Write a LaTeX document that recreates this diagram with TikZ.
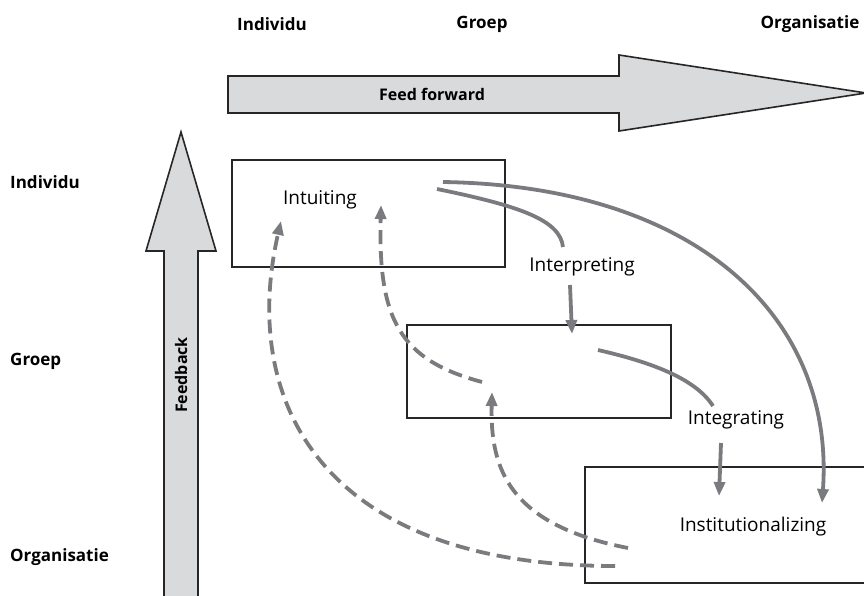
\documentclass[tikz,border=0pt]{standalone}
\usepackage{fontspec}
\setmainfont{Open Sans}
\usetikzlibrary{arrows.meta}
\definecolor{flow}{HTML}{7A7B7E}
\definecolor{bigfill}{HTML}{D9DADB}
\tikzset{
  lbl/.style={font=\fontsize{17}{19}\selectfont\bfseries, inner sep=0pt},
  arrlbl/.style={font=\fontsize{16}{18}\selectfont\bfseries, inner sep=0pt},
  proc/.style={font=\fontsize{19}{22}\selectfont, inner sep=0pt},
  levelbox/.style={draw=black!85, line width=1.6pt, fill=none},
  bigarrow/.style={draw=black!85, line width=1.6pt, fill=bigfill},
  flowline/.style={draw=flow, line width=3.8pt, -{Triangle[length=14pt,width=11pt]}},
  flowdash/.style={flowline, dash pattern=on 14pt off 7pt},
}
\begin{document}
\begin{tikzpicture}[x=1pt,y=-1pt]
\useasboundingbox (0,0) rectangle (864,596);
% big arrows
\draw[bigarrow] (228,76) -- (619,76) -- (619,55) -- (866,93) -- (619,131) -- (619,113) -- (228,113) -- cycle;
\node[arrlbl] (ff) at (432,94) {Feed forward};
\draw[bigarrow] (164,600) -- (164,251) -- (146,251) -- (181,132) -- (216,251) -- (198,251) -- (198,600);
\node[arrlbl, rotate=90] (fb) at (181,375) {Feedback};
% headers
\node[lbl] (hi) at (272,24) {Individu};
\node[lbl] (hg) at (482,24) {Groep};
\node[lbl] (ho) at (810,24) {Organisatie};
\node[lbl, anchor=west] (li) at (10,182) {Individu};
\node[lbl, anchor=west] (lg) at (10,361) {Groep};
\node[lbl, anchor=west] (lo) at (10,557) {Organisatie};
% boxes
\node[levelbox, minimum width=273pt, minimum height=107pt, anchor=north west] (b1) at (231,159) {};
\node[levelbox, minimum width=264pt, minimum height=93pt, anchor=north west] (b2) at (406,324) {};
\node[levelbox, minimum width=300pt, minimum height=116pt, anchor=north west] (b3) at (584,466) {};
\node[proc] (intu) at (320,200) {Intuiting};
\node[proc] (interp) at (582,267) {Interpreting};
\node[proc] (integ) at (736,420) {Integrating};
\node[proc] (inst) at (753,527) {Institutionalizing};
% endpoints
\coordinate (a1) at (437,189);
\coordinate (a2) at (563,247);
\coordinate (a3) at (570,285);
\coordinate (a4) at (572,334);
\coordinate (c1) at (598,350);
\coordinate (c2) at (713,406);
\coordinate (c3) at (721,443);
\coordinate (c4) at (719,496);
\coordinate (s1) at (443,182);
\coordinate (s2) at (822,503);
\coordinate (d1s) at (615,566);
\coordinate (d1e) at (281,221);
\coordinate (d2s) at (628,548);
\coordinate (d2e) at (492,392);
\coordinate (d3s) at (482,382);
\coordinate (d3e) at (381,205);
% solid flows
\draw[draw=flow, line width=3.8pt] (a1) .. controls (520,206) and (560,220) .. (a2);
\draw[flowline] (a3) -- (a4);
\draw[draw=flow, line width=3.8pt] (c1) .. controls (650,362) and (695,378) .. (c2);
\draw[flowline] (c3) -- (c4);
\draw[flowline] (s1) .. controls (700,186) and (835,320) .. (s2);
% dashed feedback
\draw[flowdash] (d1s) .. controls (320,566) and (240,400) .. (d1e);
\draw[flowdash] (d2s) .. controls (510,525) and (490,470) .. (d2e);
\draw[flowdash] (d3s) .. controls (400,360) and (378,320) .. (d3e);
\end{tikzpicture}
\end{document}
